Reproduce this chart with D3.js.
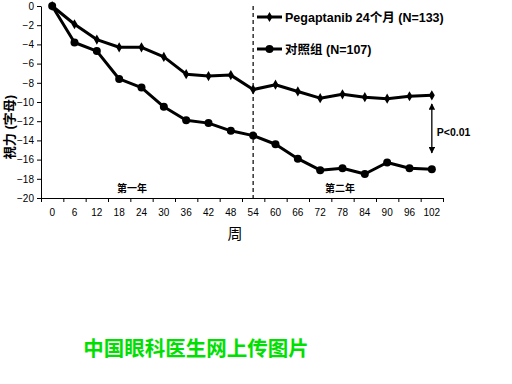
<!DOCTYPE html>
<html lang="zh">
<head>
<meta charset="UTF-8">
<title>视力</title>
<script src="https://cdn.jsdelivr.net/npm/d3@7"></script>
<style>
  body { margin: 0; background: #fff; }
  text { font-family: "Liberation Sans", Arial, "Noto Sans CJK SC", sans-serif; }
</style>
</head>
<body>
<script>
// 数据
var weeks = [0, 6, 12, 18, 24, 30, 36, 42, 48, 54, 60, 66, 72, 78, 84, 90, 96, 102];
var pegaptanib = [0, -1.9, -3.5, -4.3, -4.3, -5.3, -7.1, -7.3, -7.2, -8.7, -8.2, -8.9, -9.6, -9.2, -9.5, -9.65, -9.4, -9.3];
var control = [0, -3.8, -4.7, -7.6, -8.5, -10.5, -11.9, -12.2, -13.0, -13.5, -14.4, -15.9, -17.1, -16.9, -17.5, -16.3, -16.9, -17.0];
var yTicks = [0, -2, -4, -6, -8, -10, -12, -14, -16, -18, -20];
var seriesNames = ["Pegaptanib 24个月  (N=133)", "对照组 (N=107)"];

var width = 512, height = 384;
var pad = {left: 41, right: 443, top: 6, bottom: 198};

var svg = d3.select("body").append("svg").attr("width", width).attr("height", height);

var x = d3.scaleBand().domain(weeks).range([pad.left, pad.right]).padding(0);
var xEdge = d3.scaleLinear().domain([0, weeks.length]).range([pad.left, pad.right]);
var y = d3.scaleLinear().domain([-20, 0]).range([pad.bottom, pad.top]);
var cx = function (w) { return x(w) + x.bandwidth() / 2; };

// y轴
var yAxis = svg.append("g").attr("transform", "translate(" + pad.left + ",0)")
  .call(d3.axisLeft(y).tickValues(yTicks).tickSize(4).tickSizeOuter(0).tickPadding(3).tickFormat(d3.format("d")));
yAxis.selectAll("text").attr("font-size", 10).attr("fill", "#000").style("font-family", "Liberation Sans, Arial");
yAxis.selectAll("line, path").attr("stroke", "#000");

// x轴 刻度线（在类别之间）
var xTickG = svg.append("g").attr("transform", "translate(0," + pad.bottom + ")")
  .call(d3.axisBottom(xEdge).tickValues(d3.range(weeks.length + 1)).tickSize(4).tickSizeOuter(0).tickFormat(""));
xTickG.selectAll("line, path").attr("stroke", "#000");

// x轴 标签
var xLab = svg.append("g").attr("transform", "translate(0," + pad.bottom + ")")
  .call(d3.axisBottom(x).tickSize(0).tickPadding(11));
xLab.select(".domain").remove();
xLab.selectAll("text").attr("font-size", 10).attr("fill", "#000").style("font-family", "Liberation Sans, Arial");

// 虚线 (第54周)
svg.append("line")
  .attr("x1", cx(54)).attr("x2", cx(54))
  .attr("y1", pad.top).attr("y2", pad.bottom)
  .attr("stroke", "#333").attr("stroke-width", 1.5).attr("stroke-dasharray", "4,3");

// 折线
var line = d3.line()
  .x(function (d, i) { return cx(weeks[i]); })
  .y(function (d) { return y(d); });

var diamond = d3.symbol().type(d3.symbolDiamond).size(30);

svg.append("path").datum(pegaptanib).attr("d", line)
  .attr("fill", "none").attr("stroke", "#000").attr("stroke-width", 3).attr("stroke-linejoin", "round");
svg.append("path").datum(control).attr("d", line)
  .attr("fill", "none").attr("stroke", "#000").attr("stroke-width", 3).attr("stroke-linejoin", "round");

svg.selectAll(".dm").data(pegaptanib).enter().append("path")
  .attr("d", diamond)
  .attr("transform", function (d, i) { return "translate(" + cx(weeks[i]) + "," + y(d) + ")"; })
  .attr("fill", "#000");
svg.selectAll(".cc").data(control).enter().append("circle")
  .attr("cx", function (d, i) { return cx(weeks[i]); })
  .attr("cy", function (d) { return y(d); })
  .attr("r", 4).attr("fill", "#000");

// 图例
var legY = [17, 49];
legY.forEach(function (ly, i) {
  svg.append("line").attr("x1", 257).attr("x2", 282).attr("y1", ly).attr("y2", ly)
    .attr("stroke", "#000").attr("stroke-width", 3);
  if (i === 0) {
    svg.append("path").attr("d", diamond).attr("transform", "translate(269.5," + ly + ")").attr("fill", "#000");
  } else {
    svg.append("circle").attr("cx", 269.5).attr("cy", ly).attr("r", 4).attr("fill", "#000");
  }
  svg.append("text").attr("x", 285).attr("y", ly + 4.5)
    .attr("font-size", 12.5).attr("font-weight", "bold")
    .text(seriesNames[i]);
});

// 双向箭头 P<0.01
var defs = svg.append("defs");
defs.append("marker").attr("id", "ah").attr("viewBox", "0 0 10 10")
  .attr("refX", 9).attr("refY", 5).attr("markerWidth", 5).attr("markerHeight", 5)
  .attr("orient", "auto-start-reverse")
  .append("path").attr("d", "M0,0L10,5L0,10Z").attr("fill", "#000");
var ax = cx(102);
svg.append("line").attr("x1", ax).attr("x2", ax)
  .attr("y1", y(-10.2)).attr("y2", y(-15.3))
  .attr("stroke", "#000").attr("stroke-width", 1.3)
  .attr("marker-start", "url(#ah)").attr("marker-end", "url(#ah)");
svg.append("text").attr("x", ax + 5).attr("y", 136)
  .attr("font-size", 10.5).attr("font-weight", "bold").text("P<0.01");

// 第一年 / 第二年
svg.append("text").attr("x", 132).attr("y", 192).attr("text-anchor", "middle")
  .attr("font-size", 10).attr("font-weight", "bold").style("font-family", "Noto Sans CJK SC").text("第一年");
svg.append("text").attr("x", 340).attr("y", 192).attr("text-anchor", "middle")
  .attr("font-size", 10).attr("font-weight", "bold").style("font-family", "Noto Sans CJK SC").text("第二年");

// 轴标题
svg.append("text").attr("transform", "translate(14,127) rotate(-90)").attr("text-anchor", "middle")
  .attr("font-size", 13).attr("font-weight", "bold").text("視力 (字母)");
svg.append("text").attr("x", 235).attr("y", 239).attr("text-anchor", "middle")
  .attr("font-size", 15).style("font-family", "Noto Sans CJK SC").text("周");

// 水印文字
svg.append("text").attr("x", 196).attr("y", 356).attr("text-anchor", "middle")
  .attr("font-size", 20.5).attr("font-weight", "bold").attr("fill", "#00e000")
  .style("font-family", "Noto Sans CJK SC").text("中国眼科医生网上传图片");
</script>
</body>
</html>
